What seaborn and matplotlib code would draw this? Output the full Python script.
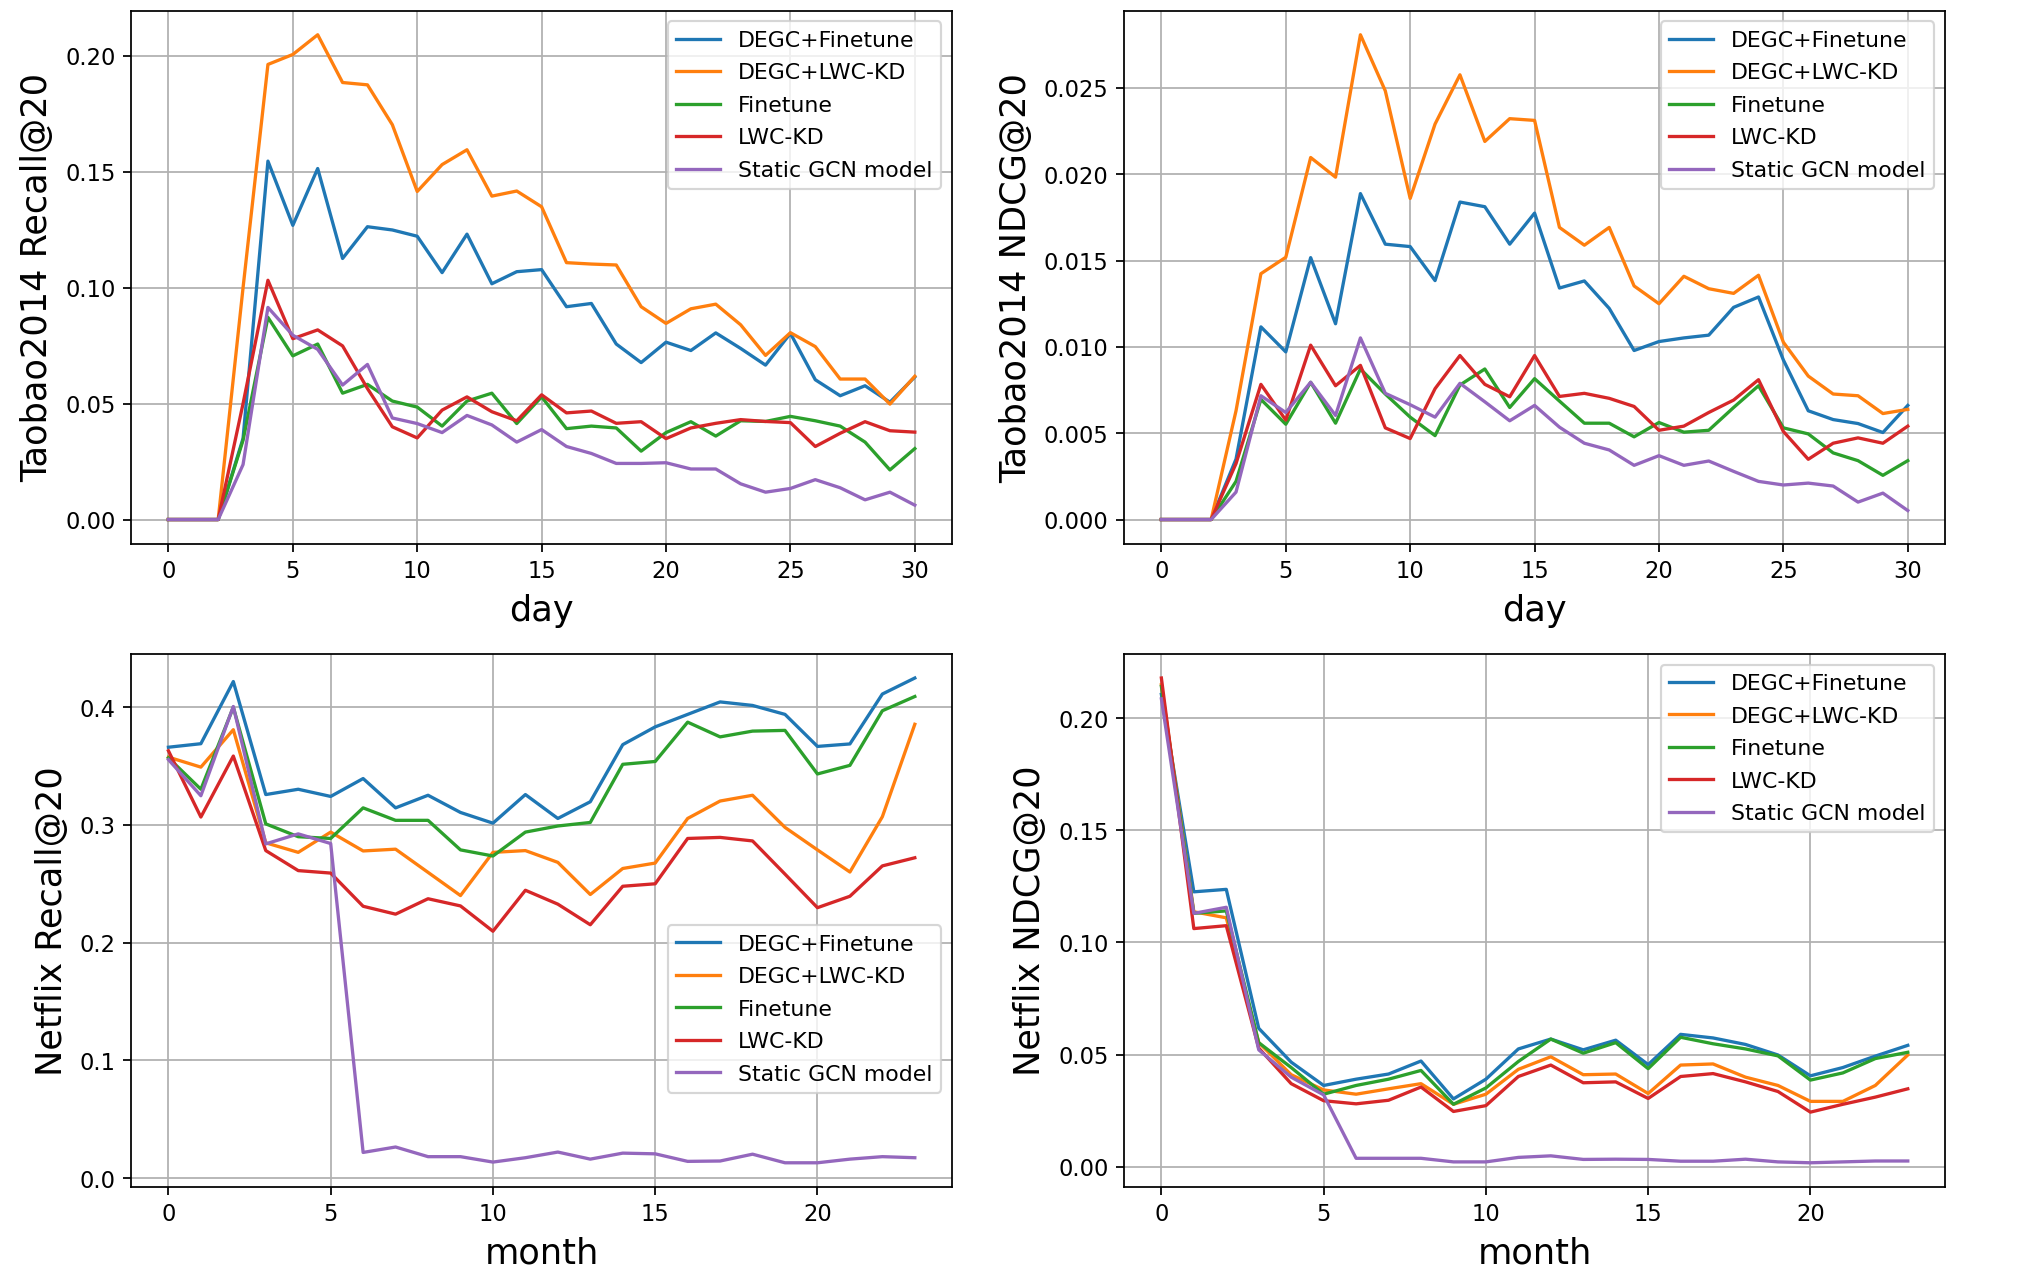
import numpy as np
import pandas as pd
import matplotlib
matplotlib.use("Agg")
import matplotlib.pyplot as plt
import seaborn as sns

# model names, in legend order
models = ["DEGC+Finetune", "DEGC+LWC-KD", "Finetune", "LWC-KD", "Static GCN model"]

days = list(range(31))
months = list(range(24))

# Taobao2014 Recall@20 (per day)
taobao_recall = {
    "DEGC+Finetune": [0, 0, 0, 0.035, 0.1546, 0.1269, 0.1514, 0.1126, 0.1263, 0.1249, 0.1222,
                      0.1065, 0.1231, 0.1017, 0.1069, 0.1078, 0.0918, 0.0932, 0.0757, 0.0677, 0.0765,
                      0.0729, 0.0805, 0.0738, 0.0666, 0.0803, 0.0603, 0.0534, 0.0577, 0.0506, 0.0615],
    "DEGC+LWC-KD": [0, 0, 0, 0.100, 0.1963, 0.2006, 0.2091, 0.1885, 0.1875, 0.1703, 0.1415,
                    0.1531, 0.1595, 0.1395, 0.1417, 0.1349, 0.1108, 0.1102, 0.1098, 0.0918, 0.0846,
                    0.0909, 0.0929, 0.0840, 0.0708, 0.0806, 0.0746, 0.0606, 0.0606, 0.0498, 0.0618],
    "Finetune": [0, 0, 0, 0.0342, 0.0872, 0.0706, 0.0757, 0.0545, 0.0583, 0.0511, 0.0485,
                 0.0403, 0.0511, 0.0545, 0.0414, 0.0529, 0.0392, 0.0403, 0.0395, 0.0295, 0.0375,
                 0.0422, 0.0360, 0.0426, 0.0423, 0.0445, 0.0426, 0.0403, 0.0334, 0.0214, 0.0306],
    "LWC-KD": [0, 0, 0, 0.050, 0.1032, 0.0780, 0.0818, 0.0749, 0.0565, 0.0400, 0.0352,
               0.0472, 0.0529, 0.0465, 0.0426, 0.0538, 0.0460, 0.0468, 0.0415, 0.0422, 0.0349,
               0.0395, 0.0415, 0.0431, 0.0423, 0.0418, 0.0315, 0.0372, 0.0422, 0.0383, 0.0377],
    "Static GCN model": [0, 0, 0, 0.0237, 0.0915, 0.0795, 0.0734, 0.0580, 0.0669, 0.0438, 0.0414,
                         0.0375, 0.0449, 0.0408, 0.0334, 0.0388, 0.0315, 0.0285, 0.0242, 0.0242, 0.0245,
                         0.0218, 0.0218, 0.0154, 0.0118, 0.0134, 0.0172, 0.0137, 0.0085, 0.0118, 0.0062],
}

# Taobao2014 NDCG@20 (per day)
taobao_ndcg = {
    "DEGC+Finetune": [0, 0, 0, 0.0035, 0.01116, 0.00971, 0.01517, 0.01134, 0.01888, 0.01595, 0.01581,
                      0.01384, 0.01839, 0.01812, 0.01595, 0.01775, 0.01341, 0.01382, 0.01223, 0.00979, 0.01031,
                      0.01052, 0.01068, 0.01229, 0.01289, 0.00924, 0.00630, 0.00579, 0.00556, 0.00504, 0.00661],
    "DEGC+LWC-KD": [0, 0, 0, 0.0063, 0.01424, 0.01519, 0.02097, 0.01983, 0.02808, 0.02483, 0.01860,
                    0.02291, 0.02576, 0.02190, 0.02322, 0.02312, 0.01692, 0.01589, 0.01692, 0.01353, 0.01250,
                    0.01409, 0.01337, 0.01310, 0.01415, 0.01027, 0.00831, 0.00727, 0.00717, 0.00614, 0.00638],
    "Finetune": [0, 0, 0, 0.00221, 0.00696, 0.00552, 0.00795, 0.00558, 0.00872, 0.00727, 0.00593,
                 0.00486, 0.00779, 0.00872, 0.00649, 0.00816, 0.00686, 0.00558, 0.00558, 0.00479, 0.00562,
                 0.00506, 0.00517, 0.00649, 0.00775, 0.00531, 0.00496, 0.00386, 0.00341, 0.00256, 0.00341],
    "LWC-KD": [0, 0, 0, 0.00324, 0.00783, 0.00576, 0.01010, 0.00775, 0.00893, 0.00531, 0.00469,
               0.00758, 0.00950, 0.00783, 0.00711, 0.00950, 0.00713, 0.00731, 0.00702, 0.00655, 0.00517,
               0.00541, 0.00620, 0.00692, 0.00810, 0.00510, 0.00349, 0.00442, 0.00473, 0.00442, 0.00541],
    "Static GCN model": [0, 0, 0, 0.00159, 0.00717, 0.00620, 0.00795, 0.00603, 0.01052, 0.00731, 0.00665,
                         0.00593, 0.00789, 0.00682, 0.00572, 0.00661, 0.00535, 0.00442, 0.00403, 0.00314, 0.00370,
                         0.00314, 0.00339, 0.00279, 0.00221, 0.00200, 0.00211, 0.00194, 0.00101, 0.00153, 0.00052],
}

# Netflix Recall@20 (per month)
netflix_recall = {
    "DEGC+Finetune": [0.366, 0.369, 0.4218, 0.3258, 0.3303, 0.3242, 0.3394, 0.3145, 0.3252, 0.3106, 0.3015, 0.3258,
                      0.3055, 0.3197, 0.3682, 0.3833, 0.3939, 0.4045, 0.4015, 0.3939, 0.3667, 0.3688, 0.4112, 0.4248],
    "DEGC+LWC-KD": [0.3576, 0.3491, 0.3809, 0.2848, 0.2767, 0.2939, 0.2779, 0.2794, 0.2597, 0.2400, 0.2767, 0.2782,
                    0.2682, 0.2409, 0.2630, 0.2676, 0.3055, 0.3203, 0.3252, 0.2979, 0.2788, 0.2600, 0.3070, 0.3855],
    "Finetune": [0.357, 0.3303, 0.400, 0.3009, 0.290, 0.2885, 0.3145, 0.3039, 0.3039, 0.2788, 0.2736, 0.2939,
                 0.2991, 0.3021, 0.3515, 0.3539, 0.3873, 0.3748, 0.3797, 0.3803, 0.3433, 0.3506, 0.3970, 0.4091],
    "LWC-KD": [0.363, 0.3067, 0.3585, 0.2782, 0.2612, 0.2591, 0.2309, 0.2242, 0.2373, 0.2312, 0.2097, 0.2445,
               0.2327, 0.2152, 0.2479, 0.2500, 0.2885, 0.2894, 0.2864, 0.2582, 0.2297, 0.2394, 0.2652, 0.2721],
    "Static GCN model": [0.3555, 0.3248, 0.4006, 0.2839, 0.2924, 0.2842, 0.0218, 0.0264, 0.0182, 0.0182, 0.0136, 0.0173,
                         0.0221, 0.0161, 0.0212, 0.0206, 0.0142, 0.0145, 0.0203, 0.0130, 0.0130, 0.0161, 0.0182, 0.0173],
}

# Netflix NDCG@20 (per month)
netflix_ndcg = {
    "DEGC+Finetune": [0.2107, 0.1226, 0.1237, 0.0617, 0.0466, 0.0362, 0.0390, 0.0413, 0.0471, 0.0302, 0.0390, 0.0525,
                      0.0569, 0.0521, 0.0564, 0.0455, 0.0590, 0.0574, 0.0545, 0.0498, 0.0405, 0.0442, 0.0493, 0.0541],
    "DEGC+LWC-KD": [0.215, 0.1137, 0.1110, 0.0553, 0.0410, 0.0342, 0.0323, 0.0347, 0.0370, 0.0278, 0.0323, 0.0434,
                    0.0490, 0.0410, 0.0413, 0.0326, 0.0453, 0.0458, 0.0399, 0.0362, 0.0291, 0.0291, 0.0362, 0.0498],
    "Finetune": [0.2143, 0.1130, 0.1141, 0.0553, 0.0442, 0.0323, 0.0362, 0.0390, 0.0429, 0.0278, 0.0351, 0.0469,
                 0.0569, 0.0506, 0.0553, 0.0437, 0.0577, 0.0548, 0.0525, 0.0494, 0.0386, 0.0418, 0.0482, 0.0510],
    "LWC-KD": [0.218, 0.1062, 0.1075, 0.0529, 0.0370, 0.0294, 0.0280, 0.0296, 0.0355, 0.0246, 0.0272, 0.0402,
               0.0453, 0.0374, 0.0378, 0.0304, 0.0402, 0.0415, 0.0378, 0.0335, 0.0243, 0.0278, 0.0310, 0.0347],
    "Static GCN model": [0.2087, 0.1130, 0.1157, 0.0521, 0.0399, 0.0320, 0.0037, 0.0037, 0.0037, 0.0021, 0.0021, 0.0041,
                         0.0048, 0.0032, 0.0033, 0.0032, 0.0024, 0.0024, 0.0033, 0.0021, 0.0017, 0.0021, 0.0025, 0.0025],
}

panels = [
    (taobao_recall, days, "day", "Taobao2014 Recall@20"),
    (taobao_ndcg, days, "day", "Taobao2014 NDCG@20"),
    (netflix_recall, months, "month", "Netflix Recall@20"),
    (netflix_ndcg, months, "month", "Netflix NDCG@20"),
]

DPI = 158
plt.rcParams["xtick.labelsize"] = 10.3
plt.rcParams["ytick.labelsize"] = 10.3
plt.rcParams["axes.labelsize"] = 16
plt.rcParams["legend.fontsize"] = 10
plt.rcParams["legend.labelspacing"] = 0.57

fig, axes = plt.subplots(2, 2, figsize=(2032.5 / DPI, 1267.5 / DPI))
fig.subplots_adjust(left=0.0645, right=0.957, bottom=0.0631, top=0.9913, wspace=0.2094, hspace=0.2063)

palette = sns.color_palette("tab10", 5)

for i, (ax, (series, xs, xlabel, ylabel)) in enumerate(zip(axes.flat, panels)):
    for name, color in zip(models, palette):
        sns.lineplot(x=xs, y=series[name], label=name, color=color, linewidth=1.5, ax=ax)
    ax.grid(True)
    ax.set_xlabel(xlabel, labelpad=5)
    ax.set_ylabel(ylabel, labelpad=5)
    if i == 2:
        ax.legend(loc="lower right", bbox_to_anchor=(1, 0.156))
    else:
        ax.legend(loc="upper right")

fig.savefig("out.png", dpi=DPI)
